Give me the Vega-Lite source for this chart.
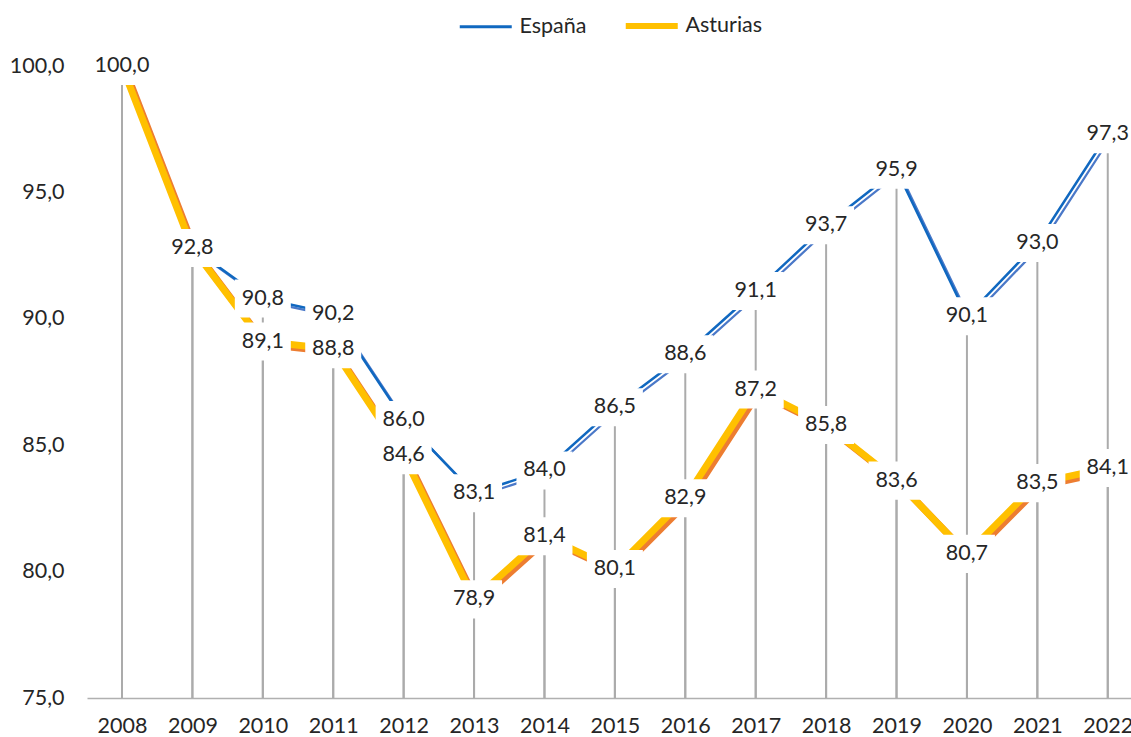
{
  "$schema": "https://vega.github.io/schema/vega-lite/v6.json",
  "width": 1044,
  "height": 632,
  "autosize": {"type": "none"},
  "padding": {"left": 87, "top": 66, "right": 0, "bottom": 39},
  "config": {
    "view": {"stroke": null},
    "font": "Lato",
    "locale": {"number": {"decimal": ",", "thousands": ".", "grouping": [3], "currency": ["", " €"]}}
  },
  "data": {
    "values": [
      {"year": 2008, "series": "España", "value": 100.0},
      {"year": 2009, "series": "España", "value": 92.8},
      {"year": 2010, "series": "España", "value": 90.8},
      {"year": 2011, "series": "España", "value": 90.2},
      {"year": 2012, "series": "España", "value": 86.0},
      {"year": 2013, "series": "España", "value": 83.1},
      {"year": 2014, "series": "España", "value": 84.0},
      {"year": 2015, "series": "España", "value": 86.5},
      {"year": 2016, "series": "España", "value": 88.6},
      {"year": 2017, "series": "España", "value": 91.1},
      {"year": 2018, "series": "España", "value": 93.7},
      {"year": 2019, "series": "España", "value": 95.9},
      {"year": 2020, "series": "España", "value": 90.1},
      {"year": 2021, "series": "España", "value": 93.0},
      {"year": 2022, "series": "España", "value": 97.3},
      {"year": 2008, "series": "Asturias", "value": 100.0},
      {"year": 2009, "series": "Asturias", "value": 92.8},
      {"year": 2010, "series": "Asturias", "value": 89.1},
      {"year": 2011, "series": "Asturias", "value": 88.8},
      {"year": 2012, "series": "Asturias", "value": 84.6},
      {"year": 2013, "series": "Asturias", "value": 78.9},
      {"year": 2014, "series": "Asturias", "value": 81.4},
      {"year": 2015, "series": "Asturias", "value": 80.1},
      {"year": 2016, "series": "Asturias", "value": 82.9},
      {"year": 2017, "series": "Asturias", "value": 87.2},
      {"year": 2018, "series": "Asturias", "value": 85.8},
      {"year": 2019, "series": "Asturias", "value": 83.6},
      {"year": 2020, "series": "Asturias", "value": 80.7},
      {"year": 2021, "series": "Asturias", "value": 83.5},
      {"year": 2022, "series": "Asturias", "value": 84.1}
    ]
  },
  "encoding": {
    "x": {
      "field": "year", "type": "quantitative",
      "scale": {"domain": [2007.503, 2022.33], "nice": false, "zero": false},
      "axis": {
        "title": null, "values": [2008,2009,2010,2011,2012,2013,2014,2015,2016,2017,2018,2019,2020,2021,2022],
        "format": "d", "grid": false, "ticks": false, "domainColor": "#b0b0b0", "domainWidth": 1.5,
        "labelFontSize": 21.5, "labelColor": "#262626", "labelPadding": 17, "labelFlush": false
      }
    },
    "y": {
      "field": "value", "type": "quantitative",
      "scale": {"domain": [75, 100], "nice": false, "zero": false},
      "axis": {
        "title": null, "values": [75, 80, 85, 90, 95, 100], "format": ".1f", "grid": false, "ticks": false,
        "domain": false, "labelFontSize": 21.5, "labelColor": "#262626", "labelPadding": 23
      }
    }
  },
  "layer": [
    {
      "mark": {"type": "rule", "color": "#ababab", "strokeWidth": 2},
      "encoding": {"y2": {"datum": 75}}
    },
    {
      "transform": [{"filter": "datum.series === 'España'"}],
      "mark": {"type": "line", "color": "#4a78c8", "strokeWidth": 2.25, "xOffset": 3, "yOffset": 3}
    },
    {
      "transform": [{"filter": "datum.series === 'España'"}],
      "mark": {"type": "line", "strokeWidth": 2.5},
      "encoding": {
        "color": {
          "field": "series", "type": "nominal",
          "scale": {"domain": ["España", "Asturias"], "range": ["#1068c0", "#ffc000"]},
          "legend": {
            "title": null, "orient": "none", "legendX": 388, "legendY": -51, "direction": "horizontal",
            "symbolType": "stroke", "symbolSize": 2704, "labelFontSize": 21.5, "labelColor": "#262626",
            "labelOffset": 23, "columnPadding": 26,
            "encode": {"symbols": {"update": {"strokeWidth": {"signal": "datum.label === 'Asturias' ? 6 : 3"}}}}
          }
        }
      }
    },
    {
      "transform": [{"filter": "datum.series === 'Asturias'"}],
      "mark": {"type": "line", "color": "#ed7d31", "strokeWidth": 7, "xOffset": 3, "yOffset": 3}
    },
    {
      "transform": [{"filter": "datum.series === 'Asturias'"}],
      "mark": {"type": "line", "strokeWidth": 7},
      "encoding": {"color": {"field": "series", "type": "nominal"}}
    },
    {
      "mark": {"type": "point", "shape": "M-1,-0.68H1V0.68H-1Z", "size": 3136, "filled": true, "fill": "white", "opacity": 1, "strokeWidth": 0}
    },
    {
      "transform": [{"filter": "!(datum.series === 'Asturias' && (datum.year === 2008 || datum.year === 2009))"}],
      "mark": {"type": "text", "fontSize": 21.5, "color": "#262626", "baseline": "middle", "align": "center"},
      "encoding": {"text": {"field": "value", "type": "quantitative", "format": ".1f"}}
    }
  ]
}
